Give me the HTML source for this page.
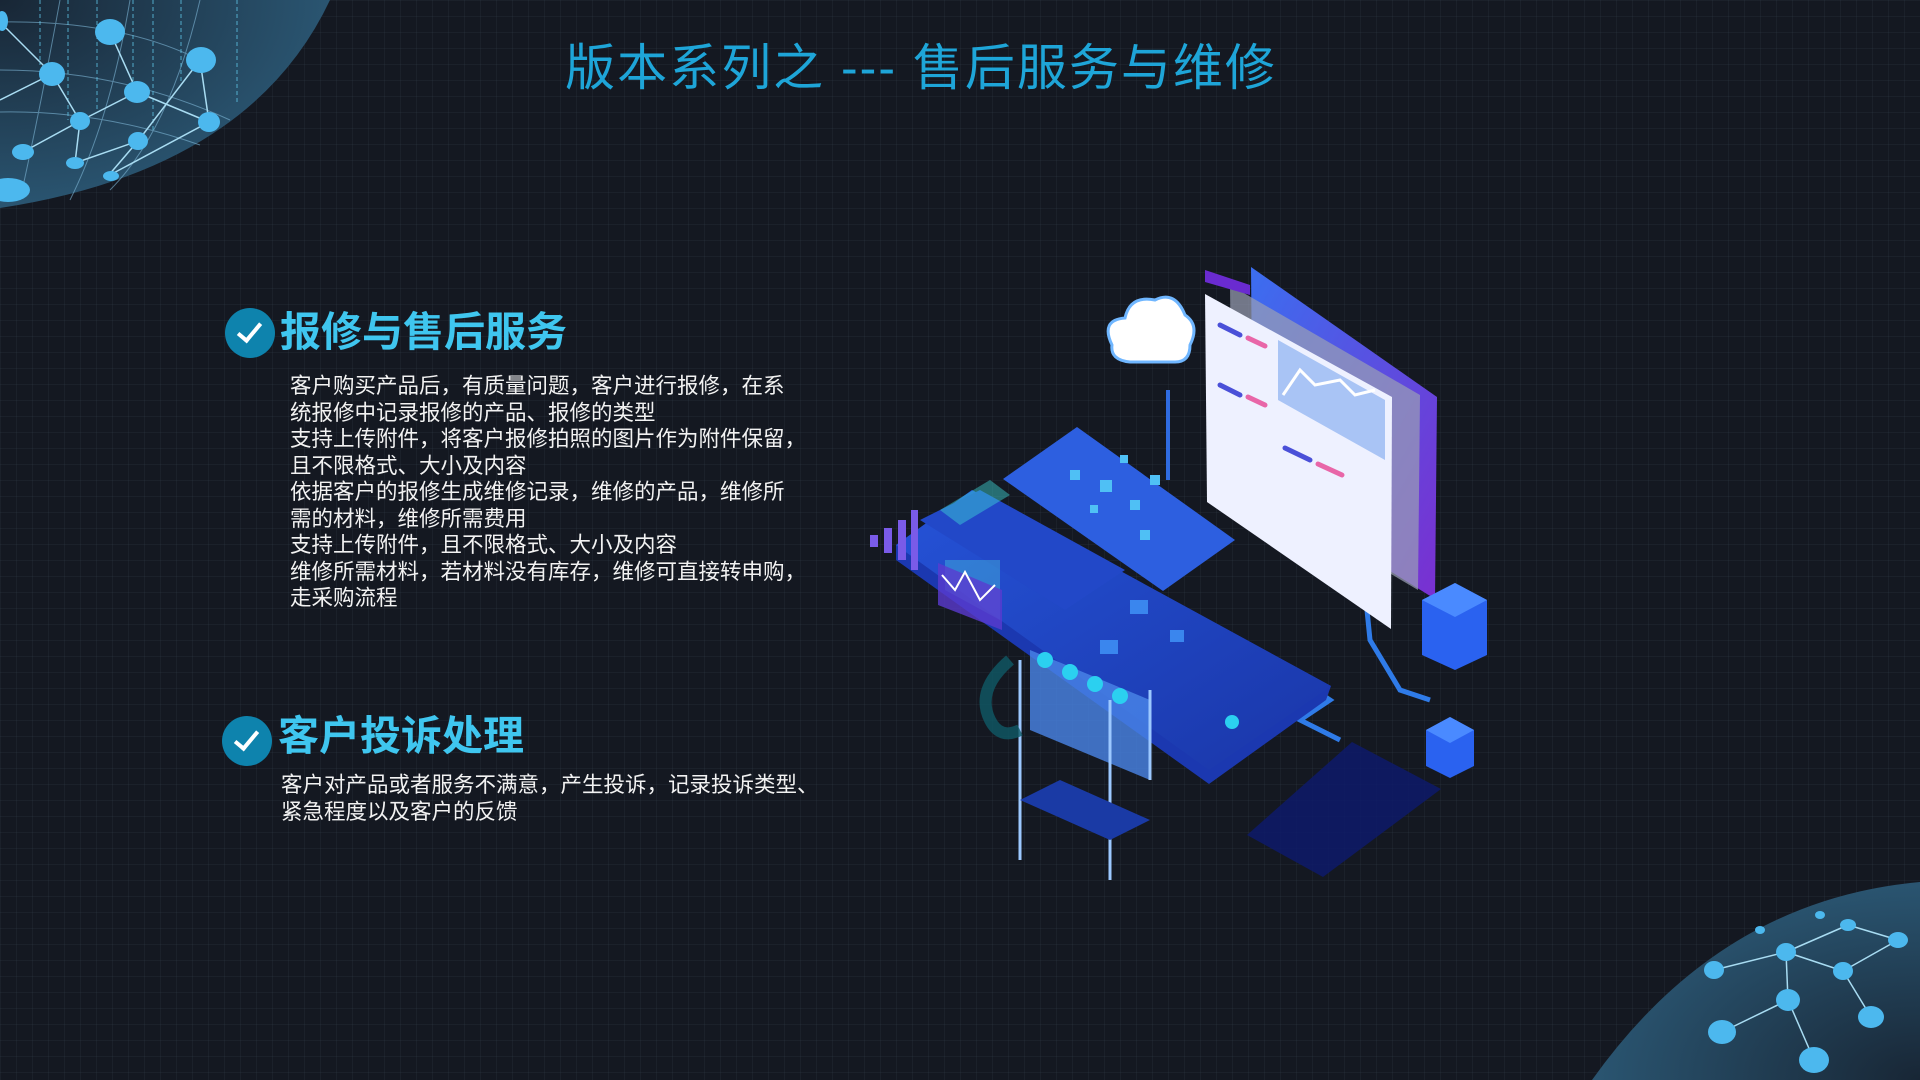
<!DOCTYPE html>
<html><head><meta charset="utf-8"><style>
html,body{margin:0;padding:0}
body{width:1920px;height:1080px;position:relative;overflow:hidden;background:#141821;
background-image:linear-gradient(rgba(60,70,85,.18) 1px,transparent 1px),linear-gradient(90deg,rgba(60,70,85,.18) 1px,transparent 1px);background-size:16px 16px;
font-family:"Liberation Sans","Noto Sans CJK SC",sans-serif}
.t{position:absolute;white-space:nowrap}
.title{left:0;width:1842px;text-align:center;top:28px;font-size:50px;color:#1ea5d8;letter-spacing:2px}
.h{font-size:41px;font-weight:bold;color:#3fc6ef}
.b{font-size:21.5px;color:#f2f2f2;line-height:26.5px}
.ck{position:absolute;width:50px;height:50px;border-radius:50%;background:#0e83ad}
.ck:after{content:"";position:absolute;left:18px;top:10px;width:9px;height:20px;border:solid #fff;border-width:0 4px 4px 0;transform:rotate(40deg)}
</style></head><body>
<svg class="t" style="left:0;top:0" width="1920" height="1080">
<defs>
<radialGradient id="g1" cx="0" cy="0" r="1"><stop offset="0" stop-color="#182635"/><stop offset="1" stop-color="#2a5571"/></radialGradient>
<radialGradient id="g2" cx="1" cy="1" r="1"><stop offset="0" stop-color="#182635"/><stop offset="1" stop-color="#2a5571"/></radialGradient>
<linearGradient id="pl" x1="0" y1="0" x2="1" y2="1"><stop offset="0" stop-color="#2553d8"/><stop offset="1" stop-color="#1a36a8"/></linearGradient>
<linearGradient id="mon" x1="0" y1="0" x2="1" y2="1"><stop offset="0" stop-color="#3b6ef0"/><stop offset="1" stop-color="#7a2fd0"/></linearGradient>
</defs>
<path d="M0,0 L330,0 Q250,170 0,208 Z" fill="url(#g1)"/>
<g stroke="#7fb8d8" stroke-width="1" fill="none" opacity=".6">
<path d="M0,22 Q120,20 200,60"/><path d="M0,70 Q120,70 230,120"/><path d="M0,112 Q100,110 200,145"/>
<path d="M60,0 Q40,110 20,200"/><path d="M130,0 Q110,120 70,200"/><path d="M200,0 Q170,130 110,190"/>
</g>
<g stroke="#5fc6e8" stroke-width="1" stroke-dasharray="4 3" opacity=".8">
<line x1="40" y1="0" x2="40" y2="65"/><line x1="68" y1="0" x2="68" y2="120"/><line x1="97" y1="0" x2="97" y2="112"/><line x1="133" y1="0" x2="133" y2="82"/><line x1="153" y1="0" x2="153" y2="130"/><line x1="181" y1="0" x2="181" y2="85"/><line x1="237" y1="0" x2="237" y2="104"/>
</g>
<g stroke="#a8dcf2" stroke-width="1.5">
<line x1="0" y1="22" x2="52" y2="74"/><line x1="52" y1="74" x2="80" y2="121"/><line x1="110" y1="32" x2="137" y2="92"/><line x1="137" y1="92" x2="80" y2="121"/><line x1="137" y1="92" x2="209" y2="122"/><line x1="200" y1="60" x2="209" y2="122"/><line x1="200" y1="60" x2="138" y2="141"/><line x1="80" y1="121" x2="23" y2="152"/><line x1="80" y1="121" x2="75" y2="163"/><line x1="138" y1="141" x2="75" y2="163"/><line x1="138" y1="141" x2="108" y2="176"/><line x1="209" y1="122" x2="108" y2="176"/><line x1="0" y1="100" x2="52" y2="74"/>
</g>
<g fill="#4cb8ee">
<ellipse cx="110" cy="32" rx="15" ry="13"/><ellipse cx="201" cy="60" rx="15" ry="13"/><ellipse cx="52" cy="74" rx="13" ry="12"/><ellipse cx="137" cy="92" rx="13" ry="11"/><ellipse cx="80" cy="121" rx="10" ry="9"/><ellipse cx="209" cy="122" rx="11" ry="10"/><ellipse cx="23" cy="152" rx="11" ry="8"/><ellipse cx="75" cy="163" rx="9" ry="6"/><ellipse cx="138" cy="141" rx="10" ry="9"/><ellipse cx="111" cy="176" rx="8" ry="5"/><ellipse cx="2" cy="21" rx="6" ry="10"/><ellipse cx="8" cy="190" rx="22" ry="12"/>
</g>
<path d="M1920,882 L1920,1080 L1592,1080 Q1720,900 1920,882 Z" fill="url(#g2)"/>
<g stroke="#a8dcf2" stroke-width="1.5">
<line x1="1714" y1="970" x2="1786" y2="952"/><line x1="1786" y1="952" x2="1843" y2="971"/><line x1="1786" y1="952" x2="1848" y2="925"/><line x1="1843" y1="971" x2="1871" y2="1017"/><line x1="1786" y1="952" x2="1788" y2="1000"/><line x1="1788" y1="1000" x2="1722" y2="1032"/><line x1="1788" y1="1000" x2="1814" y2="1060"/><line x1="1848" y1="925" x2="1898" y2="940"/><line x1="1843" y1="971" x2="1898" y2="940"/>
</g>
<g fill="#4cb8ee">
<ellipse cx="1714" cy="970" rx="10" ry="9"/><ellipse cx="1786" cy="952" rx="10" ry="9"/><ellipse cx="1843" cy="971" rx="10" ry="9"/><ellipse cx="1848" cy="925" rx="8" ry="6"/><ellipse cx="1788" cy="1000" rx="12" ry="11"/><ellipse cx="1871" cy="1017" rx="13" ry="11"/><ellipse cx="1722" cy="1032" rx="14" ry="12"/><ellipse cx="1814" cy="1060" rx="15" ry="13"/><ellipse cx="1898" cy="940" rx="10" ry="8"/><ellipse cx="1760" cy="930" rx="5" ry="4"/><ellipse cx="1820" cy="915" rx="5" ry="4"/>
</g>
<polygon points="1247,835 1352,742 1441,789 1323,877" fill="#0d1a6a" opacity=".85"/>
<polyline points="1360,540 1370,640 1400,690 1430,700" stroke="#2f7be8" stroke-width="5" fill="none"/>
<polyline points="1300,680 1330,700 1300,720 1340,740" stroke="#2f7be8" stroke-width="5" fill="none"/>
<polygon points="896,545 972,490 1331,686 1326,700 1209,784 896,560" fill="#1b38b0"/>
<polygon points="896,545 972,490 1331,686 1209,770" fill="url(#pl)"/>
<polygon points="920,520 980,490 1125,570 1065,610" fill="#2248c8"/>
<polygon points="1003,479 1077,427 1235,540 1163,591" fill="#2d5fe0"/>
<g fill="#4fc0f5"><rect x="1070" y="470" width="10" height="10"/><rect x="1100" y="480" width="12" height="12"/><rect x="1130" y="500" width="10" height="10"/><rect x="1090" y="505" width="8" height="8"/><rect x="1150" y="475" width="10" height="10"/><rect x="1120" y="455" width="8" height="8"/><rect x="1140" y="530" width="10" height="10"/></g>
<g fill="#3a86ee"><rect x="1130" y="600" width="18" height="14"/><rect x="1100" y="640" width="18" height="14"/><rect x="1170" y="630" width="14" height="12"/></g>
<polygon points="940,510 990,480 1010,495 960,525" fill="#3fd6d6" opacity=".45"/>
<polygon points="945,560 1000,560 1000,620 945,590" fill="#4fd8e0" opacity=".35"/>
<polygon points="938,563 1002,590 1002,630 938,605" fill="#5a3bd0" opacity=".8"/>
<polyline points="942,575 955,590 965,572 980,600 995,585" stroke="#fff" stroke-width="2" fill="none"/>
<g fill="#7a5be8"><rect x="870" y="535" width="8" height="12"/><rect x="884" y="528" width="8" height="25"/><rect x="898" y="520" width="8" height="40"/><rect x="911" y="510" width="7" height="60"/></g>
<polygon points="1251,267 1437,397 1435,599 1253,486" fill="url(#mon)"/>
<polygon points="1230,285 1420,395 1418,590 1232,480" fill="#9aa0b5" opacity=".7"/>
<polygon points="1205,294 1392,397 1391,629 1207,502" fill="#eef1ff"/>
<polygon points="1205,270 1250,285 1250,295 1205,282" fill="#6a2bd0"/>
<polygon points="1278,340 1385,400 1385,460 1278,400" fill="#a9c4f5"/>
<polyline points="1283,395 1300,370 1315,385 1340,380 1355,395 1375,390" stroke="#fff" stroke-width="3" fill="none"/>
<g stroke="#4a50d8" stroke-width="5" stroke-linecap="round"><line x1="1220" y1="325" x2="1240" y2="335"/><line x1="1220" y1="385" x2="1240" y2="395"/><line x1="1285" y1="448" x2="1310" y2="460"/></g>
<g stroke="#e866a8" stroke-width="5" stroke-linecap="round"><line x1="1248" y1="338" x2="1265" y2="346"/><line x1="1248" y1="397" x2="1265" y2="405"/><line x1="1318" y1="464" x2="1342" y2="475"/></g>
<line x1="1168" y1="390" x2="1168" y2="480" stroke="#2f6be0" stroke-width="4"/>
<path d="M1112,345 Q1100,320 1125,318 Q1130,295 1155,300 Q1175,290 1185,315 Q1200,325 1190,345 Q1190,362 1175,362 L1130,362 Q1110,360 1112,345 Z" fill="#fff" stroke="#6fb6ff" stroke-width="3"/>
<polygon points="1030,650 1150,700 1150,780 1030,730" fill="#4a86e8" opacity=".8"/>
<g fill="#2bd0f0"><circle cx="1045" cy="660" r="8"/><circle cx="1070" cy="672" r="8"/><circle cx="1095" cy="684" r="8"/><circle cx="1120" cy="696" r="8"/></g>
<g stroke="#9cc8ff" stroke-width="3"><line x1="1020" y1="660" x2="1020" y2="860"/><line x1="1110" y1="700" x2="1110" y2="880"/><line x1="1150" y1="690" x2="1150" y2="780"/></g>
<polygon points="1020,800 1110,840 1150,820 1060,780" fill="#1a3aa5"/>
<path d="M1010,660 Q975,690 990,720 Q1000,740 1020,730" stroke="#0f5a66" stroke-width="12" fill="none" opacity=".8"/>
<circle cx="1232" cy="722" r="7" fill="#2bd0f0"/>
<polygon points="1422,600 1455,583 1487,600 1487,655 1455,670 1422,655" fill="#2a62f0"/>
<polygon points="1422,600 1455,617 1487,600 1455,583" fill="#4a8aff"/>
<polygon points="1426,730 1450,717 1474,730 1474,766 1450,778 1426,766" fill="#2a62f0"/>
<polygon points="1426,730 1450,743 1474,730 1450,717" fill="#4a8aff"/>
</svg>
<div class="t title">版本系列之 --- 售后服务与维修</div>
<div class="ck" style="left:225px;top:308px"></div>
<div class="t h" style="left:280px;top:298px">报修与售后服务</div>
<div class="t b" style="left:290px;top:373px">客户购买产品后，有质量问题，客户进行报修，在系<br>统报修中记录报修的产品、报修的类型<br>支持上传附件，将客户报修拍照的图片作为附件保留，<br>且不限格式、大小及内容<br>依据客户的报修生成维修记录，维修的产品，维修所<br>需的材料，维修所需费用<br>支持上传附件，且不限格式、大小及内容<br>维修所需材料，若材料没有库存，维修可直接转申购，<br>走采购流程</div>
<div class="ck" style="left:222px;top:716px"></div>
<div class="t h" style="left:278px;top:702px">客户投诉处理</div>
<div class="t b" style="left:281px;top:772px">客户对产品或者服务不满意，产生投诉，记录投诉类型、<br>紧急程度以及客户的反馈</div>
</body></html>
